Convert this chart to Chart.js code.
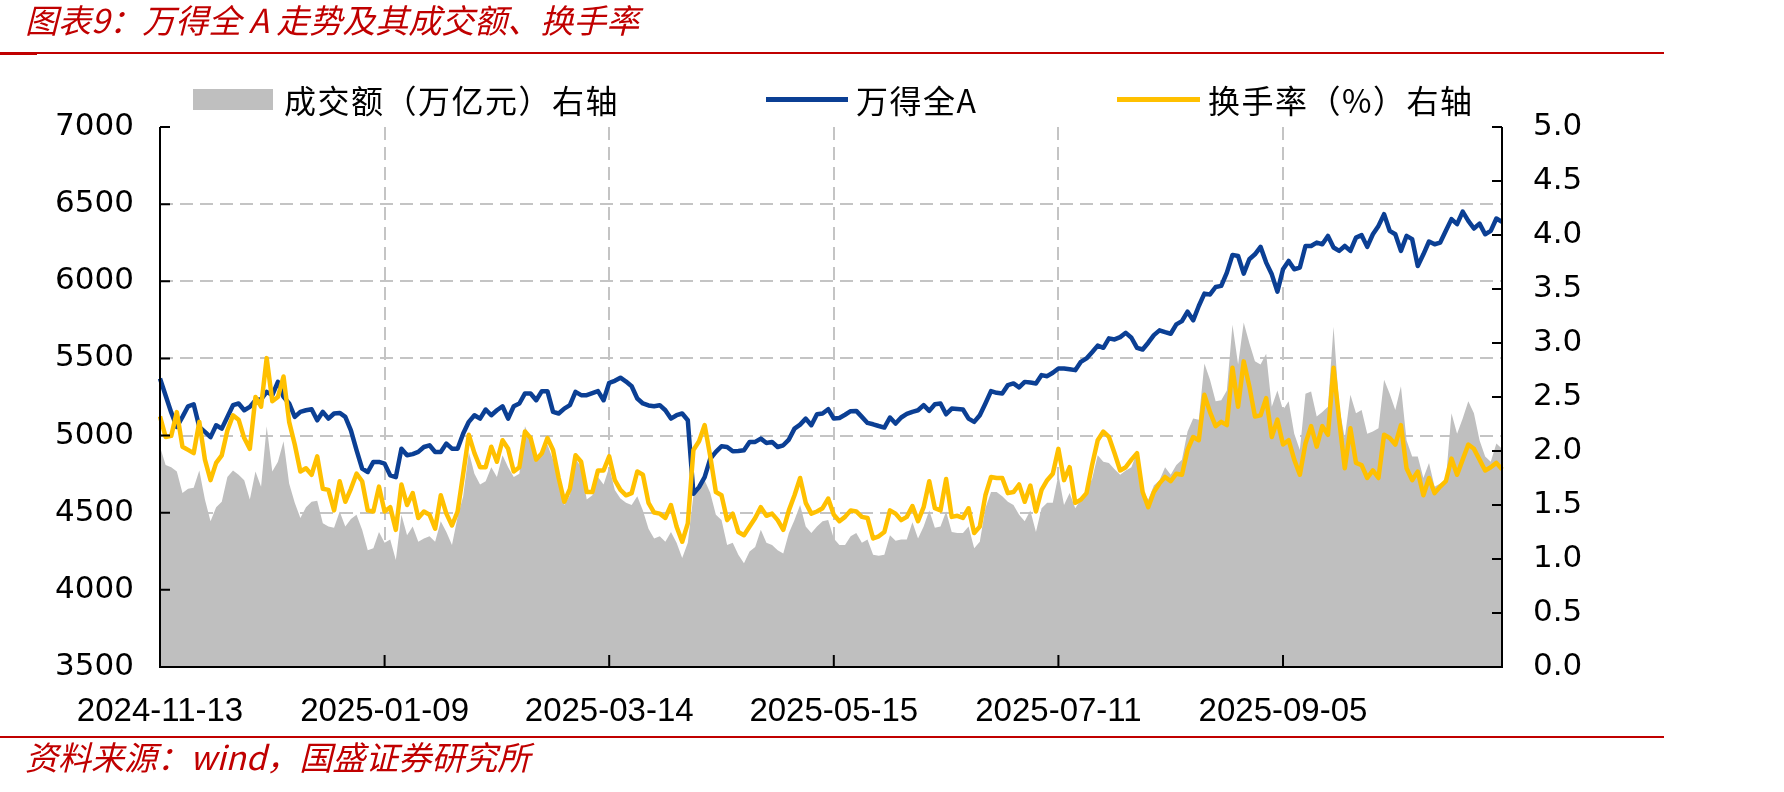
<!DOCTYPE html>
<html>
<head>
<meta charset="utf-8">
<script src="https://cdn.jsdelivr.net/npm/chart.js@4.4.1/dist/chart.umd.min.js"></script>
<style>
  html, body { margin: 0; padding: 0; background: #fff; }
  #wrap { position: relative; width: 1784px; height: 792px; overflow: hidden; }
  #chart { position: absolute; left: 0; top: 0; }
  .red { position: absolute; color: #c00000; font-family: "Noto Sans CJK SC", sans-serif; font-style: italic; font-size: 33px; line-height: 1; white-space: nowrap; }
  .rule { position: absolute; left: 0; width: 1664px; height: 2px; background: #c00000; }
  .rule b { position: absolute; left: 0; top: -0.5px; width: 37px; height: 3px; background: #c00000; }
  .lg { position: absolute; font-family: "Noto Sans CJK SC", sans-serif; font-size: 32px; line-height: 1; letter-spacing: 1.5px; color: #000; white-space: nowrap; }
  .sw { position: absolute; }
</style>
</head>
<body>
<div id="wrap">
  <canvas id="chart" width="1784" height="792"></canvas>
  <div class="red" style="left:25px; top:3px;">图表9：万得全 A 走势及其成交额、换手率</div>
  <div class="rule" style="top:52px;"><b></b></div>
  <div class="rule" style="top:736px;"></div>
  <div class="red" style="left:25px; top:740px;">资料来源：wind，国盛证券研究所</div>

  <div class="sw" style="left:193px; top:89px; width:80px; height:21px; background:#bfbfbf;"></div>
  <div class="lg" style="left:284px; top:83px;">成交额（万亿元）右轴</div>
  <div class="sw" style="left:766px; top:97px; width:82px; height:5px; background:#0b3f94;"></div>
  <div class="lg" style="left:856px; top:83px;">万得全A</div>
  <div class="sw" style="left:1117px; top:97px; width:83px; height:5px; background:#ffc000;"></div>
  <div class="lg" style="left:1208px; top:83px;">换手率（%）右轴</div>
</div>
<script>
// x tick labels, one every 40 trading days
const tickLabels = ["2024-11-13", "2025-01-09", "2025-03-14", "2025-05-15", "2025-07-11", "2025-09-05"];

// 万得全A (left axis)
const windA = [
  5370, 5260, 5150, 5056, 5121, 5190, 5203, 5056, 5024, 4990,
  5067, 5045, 5120, 5197, 5208, 5164, 5186, 5229, 5235, 5283,
  5262, 5348, 5251, 5208, 5121, 5154, 5164, 5171, 5099, 5154,
  5110, 5143, 5147, 5121, 5034, 4905, 4786, 4764, 4829, 4829,
  4818, 4742, 4731, 4915, 4872, 4880, 4894, 4926, 4937, 4894,
  4894, 4948, 4915, 4915, 5013, 5089, 5132, 5110, 5169, 5132,
  5164, 5190, 5110, 5190, 5208, 5273, 5273, 5229, 5288, 5288,
  5154, 5143, 5175, 5197, 5283, 5262, 5262, 5275, 5288, 5229,
  5342, 5355, 5375, 5350, 5320, 5240, 5208, 5195, 5190, 5197,
  5164, 5110, 5132, 5143, 5099, 4623, 4666, 4731, 4850, 4894,
  4931, 4926, 4898, 4900, 4905, 4959, 4959, 4980, 4952, 4959,
  4926, 4937, 4974, 5045, 5071, 5110, 5067, 5138, 5143, 5171,
  5110, 5114, 5135, 5158, 5160, 5121, 5082, 5073, 5062, 5052,
  5117, 5078, 5117, 5140, 5154, 5164, 5197, 5160, 5203, 5208,
  5138, 5175, 5172, 5169, 5110, 5089, 5132, 5208, 5288, 5277,
  5273, 5327, 5338, 5312, 5348, 5344, 5338, 5392, 5385, 5407,
  5435, 5435, 5430, 5424, 5478, 5500, 5540, 5583, 5569, 5630,
  5623, 5638, 5666, 5634, 5569, 5558, 5602, 5651, 5682, 5670,
  5660, 5721, 5742, 5803, 5747, 5840, 5920, 5915, 5963, 5970,
  6056, 6171, 6164, 6050, 6143, 6175, 6223, 6121, 6045, 5933,
  6078, 6132, 6078, 6089, 6229, 6229, 6251, 6240, 6294, 6219,
  6197, 6229, 6197, 6283, 6299, 6223, 6305, 6359, 6435, 6327,
  6305, 6197, 6294, 6273, 6099, 6175, 6258, 6240, 6251, 6327,
  6403, 6370, 6452, 6392, 6342, 6374, 6305, 6327, 6407, 6385,
];

// 换手率 % (right axis)
const turnover = [
  2.32, 2.13, 2.14, 2.36, 2.04, 2.01, 1.98, 2.27, 1.92, 1.73,
  1.89, 1.96, 2.19, 2.33, 2.29, 2.12, 2.02, 2.50, 2.41, 2.86,
  2.46, 2.50, 2.69, 2.27, 2.06, 1.81, 1.84, 1.78, 1.95, 1.65,
  1.64, 1.45, 1.72, 1.53, 1.65, 1.79, 1.72, 1.45, 1.44, 1.67,
  1.44, 1.48, 1.27, 1.69, 1.50, 1.61, 1.38, 1.44, 1.41, 1.28,
  1.59, 1.42, 1.31, 1.44, 1.79, 2.15, 1.98, 1.85, 1.85, 2.04,
  1.90, 2.10, 2.02, 1.81, 1.85, 2.18, 2.12, 1.92, 1.98, 2.12,
  2.01, 1.75, 1.53, 1.65, 1.96, 1.90, 1.62, 1.62, 1.82, 1.82,
  1.95, 1.73, 1.64, 1.59, 1.61, 1.81, 1.78, 1.52, 1.43, 1.42,
  1.38, 1.50, 1.30, 1.16, 1.33, 2.01, 2.09, 2.24, 1.95, 1.62,
  1.59, 1.36, 1.42, 1.25, 1.22, 1.30, 1.38, 1.48, 1.40, 1.42,
  1.36, 1.27, 1.45, 1.59, 1.75, 1.52, 1.42, 1.44, 1.47, 1.56,
  1.41, 1.35, 1.39, 1.45, 1.44, 1.39, 1.38, 1.19, 1.21, 1.25,
  1.45, 1.42, 1.36, 1.39, 1.49, 1.35, 1.48, 1.72, 1.47, 1.45,
  1.74, 1.39, 1.40, 1.38, 1.47, 1.24, 1.30, 1.59, 1.76, 1.75,
  1.75, 1.61, 1.62, 1.69, 1.53, 1.68, 1.44, 1.64, 1.73, 1.79,
  2.02, 1.73, 1.85, 1.52, 1.55, 1.61, 1.87, 2.10, 2.18, 2.13,
  1.98, 1.82, 1.85, 1.92, 1.98, 1.62, 1.48, 1.62, 1.70, 1.76,
  1.72, 1.79, 1.78, 2.01, 2.13, 2.10, 2.52, 2.36, 2.23, 2.27,
  2.24, 2.77, 2.41, 2.83, 2.60, 2.32, 2.33, 2.49, 2.13, 2.29,
  2.06, 2.10, 1.92, 1.78, 2.07, 2.23, 2.04, 2.23, 2.15, 2.77,
  2.29, 1.84, 2.21, 1.89, 1.87, 1.75, 1.82, 1.75, 2.15, 2.12,
  2.06, 2.24, 1.84, 1.73, 1.81, 1.59, 1.75, 1.61, 1.67, 1.72,
  1.93, 1.78, 1.92, 2.06, 2.02, 1.92, 1.82, 1.85, 1.89, 1.83,
];

// 成交额 万亿元 (right axis)
const amount = [
  2.04, 1.87, 1.85, 1.81, 1.61, 1.65, 1.66, 1.82, 1.55, 1.35,
  1.48, 1.53, 1.76, 1.82, 1.78, 1.73, 1.55, 1.81, 1.67, 2.23,
  1.81, 1.90, 2.09, 1.70, 1.52, 1.38, 1.48, 1.53, 1.54, 1.33,
  1.30, 1.29, 1.44, 1.30, 1.37, 1.41, 1.27, 1.08, 1.10, 1.25,
  1.15, 1.18, 0.99, 1.41, 1.22, 1.30, 1.16, 1.19, 1.21, 1.16,
  1.35, 1.25, 1.13, 1.39, 1.58, 1.99, 1.79, 1.69, 1.72, 1.85,
  1.76, 1.96, 1.85, 1.76, 1.79, 2.23, 2.10, 1.90, 1.98, 2.06,
  1.92, 1.73, 1.50, 1.59, 1.93, 1.85, 1.55, 1.59, 1.76, 1.69,
  1.85, 1.64, 1.56, 1.52, 1.50, 1.58, 1.45, 1.28, 1.19, 1.21,
  1.16, 1.25, 1.15, 1.01, 1.15, 1.59, 1.65, 1.73, 1.61, 1.41,
  1.36, 1.13, 1.15, 1.04, 0.96, 1.07, 1.11, 1.27, 1.15, 1.13,
  1.08, 1.05, 1.24, 1.36, 1.50, 1.30, 1.24, 1.30, 1.35, 1.36,
  1.19, 1.13, 1.13, 1.21, 1.24, 1.15, 1.18, 1.04, 1.03, 1.04,
  1.22, 1.17, 1.18, 1.18, 1.34, 1.19, 1.30, 1.45, 1.29, 1.30,
  1.44, 1.25, 1.24, 1.24, 1.30, 1.10, 1.16, 1.47, 1.62, 1.62,
  1.58, 1.53, 1.50, 1.41, 1.35, 1.45, 1.25, 1.47, 1.52, 1.52,
  1.78, 1.50, 1.61, 1.47, 1.55, 1.64, 1.74, 1.96, 1.90, 1.89,
  1.83, 1.78, 1.82, 1.85, 1.99, 1.64, 1.55, 1.68, 1.73, 1.85,
  1.78, 1.87, 1.92, 2.18, 2.30, 2.29, 2.81, 2.66, 2.46, 2.47,
  2.56, 3.17, 2.80, 3.19, 3.00, 2.83, 2.80, 2.90, 2.41, 2.56,
  2.38, 2.46, 2.16, 2.01, 2.53, 2.55, 2.32, 2.36, 2.41, 3.15,
  2.41, 2.12, 2.52, 2.35, 2.38, 2.16, 2.18, 2.21, 2.66, 2.53,
  2.38, 2.60, 2.10, 1.95, 1.95, 1.75, 1.89, 1.67, 1.70, 1.73,
  2.35, 2.16, 2.30, 2.46, 2.35, 2.10, 1.95, 1.90, 2.07, 2.02,
];

const days = windA.map((_, i) => i);
const STEP = 40;

// black frame and inward tick marks, drawn over the filled area
const frame = {
  id: "frame",
  afterDatasetsDraw(chart) {
    const { ctx, chartArea: a, scales } = chart;
    ctx.save();
    ctx.strokeStyle = "#000";
    ctx.lineWidth = 2;
    ctx.beginPath();
    ctx.moveTo(a.left, a.top);
    ctx.lineTo(a.left, a.bottom);
    ctx.lineTo(a.right, a.bottom);
    ctx.lineTo(a.right, a.top);
    scales.y.ticks.forEach((t) => {
      const y = scales.y.getPixelForValue(t.value);
      ctx.moveTo(a.left, y);
      ctx.lineTo(a.left + 10, y);
    });
    scales.y1.ticks.forEach((t) => {
      const y = scales.y1.getPixelForValue(t.value);
      ctx.moveTo(a.right, y);
      ctx.lineTo(a.right - 10, y);
    });
    days.forEach((d) => {
      if (d > 0 && d % STEP === 0) {
        const x = scales.x.getPixelForValue(d);
        ctx.moveTo(x, a.bottom);
        ctx.lineTo(x, a.bottom - 12);
      }
    });
    ctx.stroke();
    ctx.restore();
  },
};

const gridColor = "#c4c4c4";

new Chart(document.getElementById("chart"), {
  type: "line",
  data: {
    labels: days,
    datasets: [
      {
        label: "换手率（%）右轴",
        data: turnover,
        yAxisID: "y1",
        borderColor: "#ffc000",
        borderWidth: 4.5,
        pointRadius: 0,
        tension: 0,
        borderJoinStyle: "round",
        fill: false,
      },
      {
        label: "万得全A",
        data: windA,
        yAxisID: "y",
        borderColor: "#0b3f94",
        borderWidth: 4.5,
        pointRadius: 0,
        tension: 0,
        borderJoinStyle: "round",
        fill: false,
      },
      {
        label: "成交额（万亿元）右轴",
        data: amount,
        yAxisID: "y1",
        borderWidth: 0,
        borderColor: "#bfbfbf",
        backgroundColor: "#bfbfbf",
        pointRadius: 0,
        tension: 0,
        fill: "origin",
      },
    ],
  },
  options: {
    responsive: false,
    animation: false,
    events: [],
    layout: { padding: { top: 127, left: 0, right: 0, bottom: 0 } },
    plugins: {
      legend: { display: false },
      tooltip: { enabled: false },
    },
    scales: {
      x: {
        type: "category",
        afterFit: (s) => { s.height = 125; },
        grid: {
          color: gridColor,
          lineWidth: 2,
          drawTicks: false,
        },
        border: { display: false, dash: [13, 7] },
        ticks: {
          autoSkip: false,
          maxRotation: 0,
          padding: 25,
          color: "#000",
          font: { family: "Liberation Sans", size: 33 },
          callback: (v) => (v % STEP === 0 ? tickLabels[v / STEP] : null),
        },
      },
      y: {
        position: "left",
        min: 3500,
        max: 7000,
        afterFit: (s) => { s.width = 160; },
        grid: {
          color: (c) => (c.tick && (c.tick.value === 7000 || c.tick.value === 3500) ? "rgba(0,0,0,0)" : gridColor),
          lineWidth: 2,
          drawTicks: false,
        },
        border: { display: false, dash: [13, 7] },
        ticks: {
          stepSize: 500,
          padding: 26,
          color: "#000",
          font: { family: "DejaVu Sans", size: 31 },
          callback: (v) => String(v),
        },
      },
      y1: {
        position: "right",
        min: 0,
        max: 5,
        afterFit: (s) => { s.width = 282; },
        grid: { display: false, drawTicks: false },
        border: { display: false },
        ticks: {
          stepSize: 0.5,
          padding: 31,
          color: "#000",
          font: { family: "DejaVu Sans", size: 31 },
          callback: (v) => v.toFixed(1),
        },
      },
    },
  },
  plugins: [frame],
});
</script>
</body>
</html>
